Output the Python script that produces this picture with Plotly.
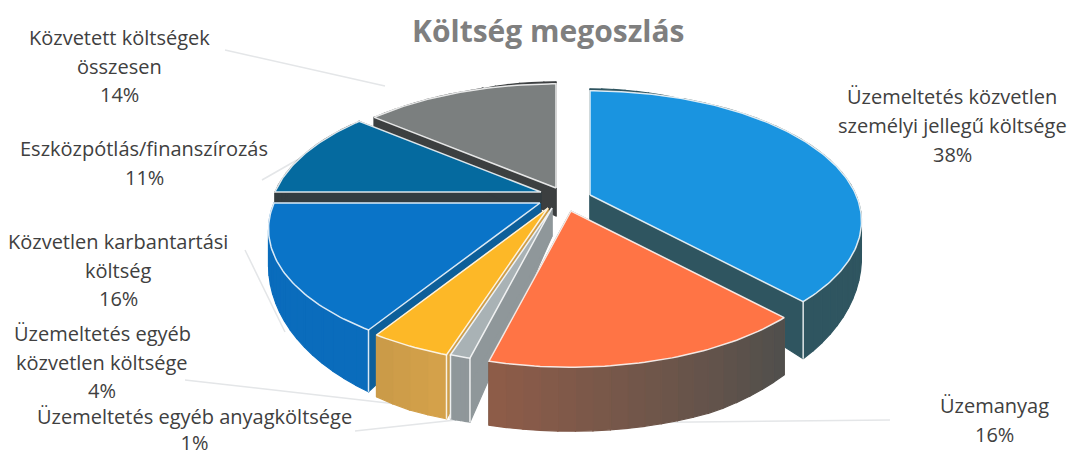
import math
import plotly.graph_objects as go

# ---- data ----
categories = [
    "Üzemeltetés közvetlen|személyi jellegű költsége",
    "Üzemanyag",
    "Üzemeltetés egyéb anyagköltsége",
    "Üzemeltetés egyéb|közvetlen költsége",
    "Közvetlen karbantartási|költség",
    "Eszközpótlás/finanszírozás",
    "Közvetett költségek|összesen",
]
values = [38, 16, 1, 4, 16, 11, 14]
title_text = "Költség megoszlás"

# ---- style / layout ----
W, H = 1071, 459
A, B, Q = 266, 125, 0.2
apex = [(590, 195), (571, 211), (552, 208), (548, 208), (540, 203), (541, 192), (556, 188)]
top_col = ["#1a94e0", "#ff7445", "#a9b2b5", "#fdb827", "#0a74c8", "#056a9f", "#7b7f7f"]
rad_col = ["#2f5560", "#6b5a50", "#8f979a", "#cf9e48", "#0d5f9a", "#333c40", "#3c3f40"]
out_from = ["#2f5560", "#4f4f4c", "#8f979a", "#d6a24a", "#0a6cbc", "#333c40", "#3c3f40"]
out_to = ["#2f5560", "#8f5c48", "#8f979a", "#c99a48", "#0a6cbc", "#333c40", "#3c3f40"]
draw_order = [6, 5, 0, 4, 3, 2, 1]
corner_lines = {0: ["end"], 4: ["start"], 3: ["start"], 2: ["start", "end"]}

label_x = [952, 994, 194, 102, 118, 144, 119]
label_y = [[96, 125, 154], [405, 434], [458], [333, 362, 390],
           [241, 270, 298], [148, 177], [37, 66, 94]]
merged_labels = {2}
leaders = [
    ([225, 385], [50, 86]),
    ([262, 297], [180, 160]),
    ([245, 285], [250, 332]),
    ([185, 405], [380, 405]),
    ([355, 465], [431, 419]),
    ([500, 890], [424, 420]),
]


def hex2rgb(h):
    return [int(h[i:i + 2], 16) for i in (1, 3, 5)]


def mix(a, b, t):
    ra, rb = hex2rgb(a), hex2rgb(b)
    return "rgb(%d,%d,%d)" % tuple(round(ra[i] + (rb[i] - ra[i]) * t) for i in range(3))


def rim(ap, deg):
    r = math.radians(deg)
    X, Y = math.sin(r), math.cos(r)
    w = 1 / (1 + Q * Y)
    return ap[0] + A * X * w, ap[1] - B * Y * w, Y


def thick(Y):
    return min(64, 28 - (30 if Y > 0 else 40) * Y)


fig = go.Figure()

for lx, ly in leaders:
    fig.add_trace(go.Scatter(x=lx, y=ly, mode="lines", line=dict(color="#e4e6e8", width=1.5),
                             hoverinfo="skip", showlegend=False))


def poly(xs, ys, fill, line=None, lw=0):
    fig.add_trace(go.Scatter(
        x=xs, y=ys, mode="lines", fill="toself", fillcolor=fill,
        line=dict(color=line or fill, width=lw if line else 1.2),
        hoverinfo="skip", showlegend=False))


bounds = []
c = 0
for v in values:
    bounds.append((c * 3.6, (c + v) * 3.6))
    c += v

for i in draw_order:
    a0, a1 = bounds[i]
    ap = apex[i]
    t0 = thick(0)
    # radial cut walls
    for ang in (a0, a1):
        x, y, Y = rim(ap, ang)
        poly([ap[0], x, x, ap[0], ap[0]], [ap[1], y, y + thick(Y), ap[1] + t0, ap[1]], rad_col[i])
    # outer wall, in strips for the gradient
    n = max(4, int((a1 - a0) / 3))
    for k in range(n):
        d0 = a0 + (a1 - a0) * k / n
        d1 = a0 + (a1 - a0) * (k + 1) / n
        x0, y0, Y0 = rim(ap, d0)
        x1, y1, Y1 = rim(ap, d1)
        poly([x0, x1, x1, x0, x0], [y0, y1, y1 + thick(Y1), y0 + thick(Y0), y0],
             mix(out_from[i], out_to[i], (k + .5) / n))
    # top face
    m = max(6, int(a1 - a0))
    pts = [rim(ap, a0 + (a1 - a0) * k / m) for k in range(m + 1)]
    poly([ap[0]] + [p[0] for p in pts] + [ap[0]],
         [ap[1]] + [p[1] for p in pts] + [ap[1]],
         top_col[i], line="rgba(255,255,255,0.85)", lw=1.5)
    # light vertical corner edges
    for which in corner_lines.get(i, []):
        x, y, Y = rim(ap, a0 if which == "start" else a1)
        fig.add_trace(go.Scatter(x=[x, x], y=[y, y + thick(Y)], mode="lines",
                                 line=dict(color="rgba(255,255,255,0.85)", width=1.5),
                                 hoverinfo="skip", showlegend=False))

annotations = []
label_font = dict(family="Open Sans", size=20, color="#404040")
for idx, (name, val, cx, ys) in enumerate(zip(categories, values, label_x, label_y)):
    parts = name.split("|") + [f"{val}%"]
    if idx in merged_labels:
        annotations.append(dict(x=cx, y=ys[0], text="<br>".join(parts), showarrow=False, xanchor="center",
                                yanchor="bottom", font=label_font))
        continue
    for txt, yy in zip(parts, ys):
        annotations.append(dict(x=cx, y=yy, text=txt, showarrow=False, xanchor="center", yanchor="middle",
                                font=label_font))
annotations.append(dict(x=548, y=30, text=f"<b>{title_text}</b>", showarrow=False, xanchor="center",
                        yanchor="middle", font=dict(family="Open Sans", size=30, color="#7f7f7f")))

fig.update_layout(
    width=W, height=H, margin=dict(l=0, r=0, t=0, b=0), autosize=False,
    paper_bgcolor="white", plot_bgcolor="white", showlegend=False, annotations=annotations,
    xaxis=dict(range=[0, W], visible=False, fixedrange=True),
    yaxis=dict(range=[H, 0], visible=False, fixedrange=True),
)
fig.write_html("out.html", config={"displayModeBar": False},
               post_script="document.body.style.margin='0';document.body.style.overflow='hidden';")
